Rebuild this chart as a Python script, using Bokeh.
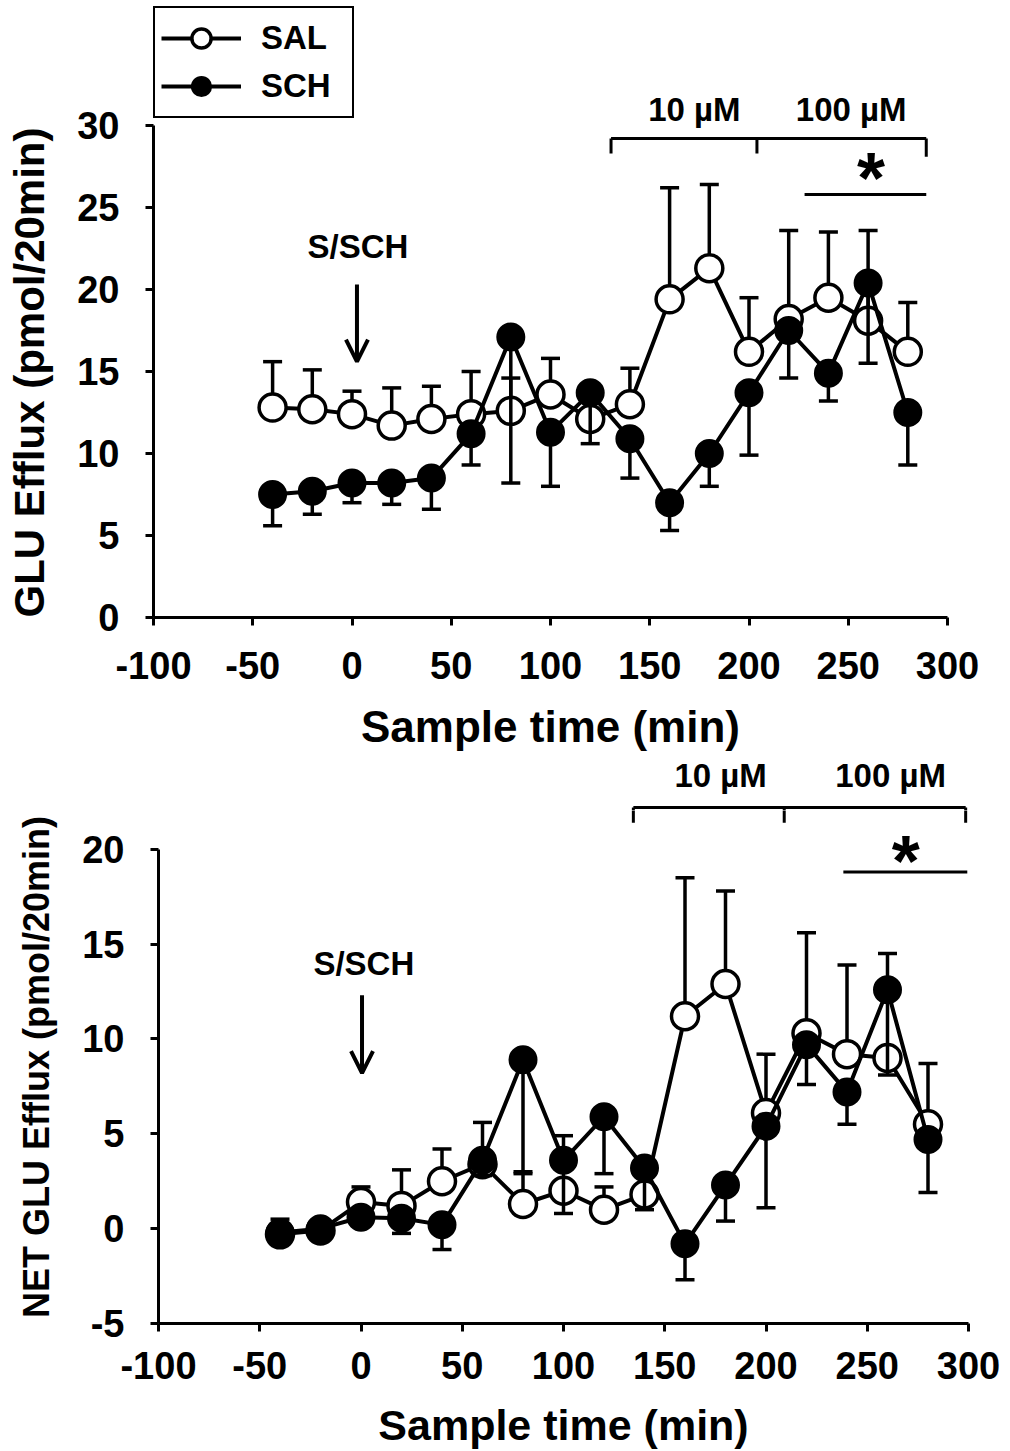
import math
from bokeh.plotting import figure
from bokeh.models import (ColumnDataSource, Range1d, FixedTicker, Legend, LegendItem,
                          Label, Arrow, OpenHead)
from bokeh.layouts import column, row
from bokeh.embed import file_html
from bokeh.resources import INLINE
from bokeh.core.properties import value

FONT = "Liberation Sans"

# ---------------- data ----------------
time = [-40, -20, 0, 20, 40, 60, 80, 100, 120, 140, 160, 180, 200, 220, 240, 260, 280]

# top panel: GLU efflux (pmol/20min)
sal_top = [12.8, 12.7, 12.4, 11.7, 12.1, 12.4, 12.6, 13.6, 12.1, 13.0, 19.4, 21.3, 16.2, 18.2, 19.5, 18.1, 16.2]
sal_top_up = [2.8, 2.4, 1.4, 2.3, 2.0, 2.6, 2.0, 2.2, 1.5, 2.2, 6.8, 5.1, 3.3, 5.4, 4.0, 5.5, 3.0]
sch_top = [7.5, 7.7, 8.2, 8.2, 8.5, 11.2, 17.1, 11.3, 13.7, 10.9, 7.0, 10.0, 13.7, 17.5, 14.9, 20.4, 12.5]
sch_top_dn = [1.9, 1.4, 1.2, 1.3, 1.9, 1.9, 8.9, 3.3, 3.1, 2.4, 1.7, 2.0, 3.8, 2.9, 1.7, 4.9, 3.2]

# bottom panel: NET GLU efflux (pmol/20min)
sal_net = [-0.3, -0.1, 1.4, 1.2, 2.5, 3.4, 1.3, 2.0, 1.0, 1.8, 11.2, 12.9, 6.1, 10.3, 9.2, 9.0, 5.5]
sal_net_up = [0.8, 0.0, 0.8, 1.9, 1.7, 0.0, 1.6, 0.0, 1.2, 0.0, 7.3, 4.9, 3.1, 5.3, 4.7, 0.0, 3.2]
sch_net = [-0.2, 0.0, 0.6, 0.55, 0.2, 3.6, 8.9, 3.6, 5.9, 3.2, -0.8, 2.3, 5.4, 9.7, 7.2, 12.6, 4.7]
sch_net_up = [0, 0, 0, 0, 0, 2.0, 0, 1.3, 0, 0, 0, 0, 0, 0, 0, 1.9, 0]
sch_net_dn = [0, 0, 0, 0.8, 1.3, 0.8, 5.9, 2.8, 3.0, 2.2, 1.9, 1.9, 4.3, 2.1, 1.7, 4.5, 2.8]

x_ticks = [-100, -50, 0, 50, 100, 150, 200, 250, 300]
top_y_ticks = [0, 5, 10, 15, 20, 25, 30]
net_y_ticks = [-5, 0, 5, 10, 15, 20]

series_names = ["SAL", "SCH"]
dose_labels = ["10 µM", "100 µM"]
injection_label = "S/SCH"
x_label = "Sample time (min)"
top_y_label = "GLU Efflux (pmol/20min)"
net_y_label = "NET GLU Efflux (pmol/20min)"


# ---------------- helpers ----------------
def err_sources(x, y, up, dn):
    bx, b0, b1 = [], [], []
    for xi, yi, u, d in zip(x, y, up, dn):
        if u > 0:
            bx.append(xi); b0.append(yi); b1.append(yi + u)
        if d > 0:
            bx.append(xi); b0.append(yi); b1.append(yi - d)
    return ColumnDataSource(dict(x=bx, y0=b0, y1=b1))


def draw_err(p, src):
    p.segment(x0="x", y0="y0", x1="x", y1="y1", source=src, line_color="black", line_width=3.5)
    p.scatter(x="x", y="y1", source=src, marker="dash", size=19, line_color="black", line_width=3.5)


def draw_series(p, x, sal, sal_up, sal_dn, sch, sch_up, sch_dn):
    draw_err(p, err_sources(x, sal, sal_up, sal_dn))
    sal_line = p.line(x, sal, line_color="black", line_width=4)
    sal_pts = p.scatter(x, sal, marker="circle", size=27, fill_color="white",
                        line_color="black", line_width=3.5)
    sch_line = p.line(x, sch, line_color="black", line_width=4)
    draw_err(p, err_sources(x, sch, sch_up, sch_dn))
    sch_pts = p.scatter(x, sch, marker="circle", size=27, fill_color="black",
                        line_color="black", line_width=2)
    return sal_line, sal_pts, sch_line, sch_pts


def style(p, yticks, ylabel, xlabel_font, ylabel_font, tick_standoff, label_standoff):
    p.xaxis.ticker = FixedTicker(ticks=x_ticks)
    p.yaxis.ticker = FixedTicker(ticks=yticks)
    p.xaxis.bounds = (-100, 300)
    p.yaxis.bounds = (yticks[0], yticks[-1])
    p.xaxis.major_label_overrides = {t: str(t) for t in x_ticks if t < 0}
    p.yaxis.major_label_overrides = {t: str(t) for t in yticks if t < 0}
    for ax in p.axis:
        ax.axis_line_width = 3
        ax.axis_line_color = "black"
        ax.major_tick_line_width = 3
        ax.major_tick_out = 8
        ax.major_tick_in = 0
        ax.minor_tick_line_color = None
        ax.major_label_text_font = FONT
        ax.major_label_text_font_style = "bold"
        ax.major_label_text_font_size = "38px"
        ax.major_label_text_color = "black"
        ax.axis_label_text_font = FONT
        ax.axis_label_text_font_style = "bold"
        ax.axis_label_text_color = "black"
    p.xaxis.axis_label_text_font_size = xlabel_font
    p.yaxis.axis_label_text_font_size = ylabel_font
    p.xaxis.major_label_standoff = tick_standoff
    p.yaxis.major_label_standoff = 26
    p.xaxis.axis_label_standoff = label_standoff
    p.yaxis.axis_label_standoff = 22
    p.xaxis.axis_label = x_label
    if ylabel:
        p.yaxis.axis_label = ylabel
    p.xgrid.visible = False
    p.ygrid.visible = False
    p.outline_line_color = None


def add_text(p, x, y, text, size="33px"):
    p.add_layout(Label(x=x, y=y, text=text, text_font=FONT, text_font_style="bold",
                       text_font_size=size, text_align="center", text_baseline="middle",
                       text_color="black"))


def arrow(p, x, y0, y1):
    p.add_layout(Arrow(end=OpenHead(size=22, line_width=4, line_color="black"),
                       x_start=x, y_start=y0, x_end=x, y_end=y1,
                       line_width=4, line_color="black"))


def bracket(p, x_left, x_mid, x_right, y_bar, y_foot, y_foot_right):
    p.segment(x0=[x_left, x_left, x_mid, x_right], y0=[y_bar] * 4,
              x1=[x_right, x_left, x_mid, x_right], y1=[y_bar, y_foot, y_foot, y_foot_right],
              line_color="black", line_width=3)


def blank(p):
    p.xgrid.visible = False
    p.ygrid.visible = False
    p.outline_line_color = None


# ---------------- top: y label column (frame aligned with top plot frame) ----------------
plab = figure(width=60, height=754, x_range=Range1d(0, 60), y_range=Range1d(-617, 0),
              output_backend="svg", toolbar_location=None, x_axis_type=None, y_axis_type=None,
              min_border_left=0, min_border_right=0, min_border_top=0, min_border_bottom=137)
blank(plab)
plab.text(x=[29], y=[-372], text=[top_y_label], angle=math.pi / 2,
          text_font=value(FONT), text_font_style="bold", text_font_size="42px",
          text_align="center", text_baseline="middle", text_color="black")

# ---------------- top figure ----------------
p1 = figure(width=950, height=754, x_range=Range1d(-100, 300), y_range=Range1d(0, 617 / 16.4),
            output_backend="svg", toolbar_location=None,
            min_border_left=93, min_border_right=63, min_border_top=0, min_border_bottom=137)
style(p1, top_y_ticks, None, "44px", "42px", 26, 20)
sal_line, sal_pts, sch_line, sch_pts = draw_series(
    p1, time, sal_top, sal_top_up, [0] * len(time), sch_top, [0] * len(time), sch_top_dn)

bracket(p1, 130.5, 204, 289.3, 29.2, 28.3, 28.1)
p1.segment(x0=[228], y0=[25.8], x1=[289.3], y1=[25.8], line_color="black", line_width=3)
add_text(p1, 172.5, 31.0, dose_labels[0])
add_text(p1, 251.5, 31.0, dose_labels[1])
add_text(p1, 261.5, 26.8, "*", size="72px")
add_text(p1, 3, 22.6, injection_label)
arrow(p1, 2.5, 20.3, 15.6)

legend = Legend(items=[LegendItem(label=series_names[0], renderers=[sal_line, sal_pts]),
                       LegendItem(label=series_names[1], renderers=[sch_line, sch_pts])],
                location=(0, 499), orientation="vertical", glyph_width=80, glyph_height=48,
                spacing=0, padding=6, margin=0, label_standoff=20, label_width=85,
                border_line_color="black", border_line_width=2.5, border_line_alpha=1.0,
                background_fill_color="white", background_fill_alpha=1.0,
                label_text_color="black",
                label_text_font=FONT, label_text_font_style="bold", label_text_font_size="33px")
p1.add_layout(legend)

# ---------------- bottom: annotation strip ----------------
xr2 = Range1d(-100, 300)
pa = figure(width=1010, height=56, x_range=xr2, y_range=Range1d(22.044, 24.979),
            output_backend="svg", toolbar_location=None, x_axis_type=None, y_axis_type=None,
            min_border_left=158, min_border_right=42, min_border_top=0, min_border_bottom=0)
blank(pa)
bracket(pa, 134.5, 209, 298.6, 22.2, 21.4, 21.4)
add_text(pa, 177.6, 23.9, dose_labels[0])
add_text(pa, 261.5, 23.9, dose_labels[1])

# ---------------- bottom figure ----------------
p2 = figure(width=1010, height=641, x_range=xr2, y_range=Range1d(-5, -5 + 516 / 19.08),
            output_backend="svg", toolbar_location=None,
            min_border_left=158, min_border_right=42, min_border_top=0, min_border_bottom=125)
style(p2, net_y_ticks, net_y_label, "43px", "36px", 20, 19)
draw_series(p2, time, sal_net, sal_net_up, [0] * len(time), sch_net, sch_net_up, sch_net_dn)
bracket(p2, 134.5, 209, 298.6, 22.2, 21.4, 21.4)
p2.segment(x0=[238.2], y0=[18.8], x1=[299.4], y1=[18.8], line_color="black", line_width=3)
add_text(p2, 269, 19.4, "*", size="72px")
add_text(p2, 1.4, 14.0, injection_label)
arrow(p2, 0.5, 12.3, 8.2)

layout = column(row(plab, p1, spacing=0), pa, p2, spacing=0)
open("out.html", "w").write(file_html(layout, INLINE))
